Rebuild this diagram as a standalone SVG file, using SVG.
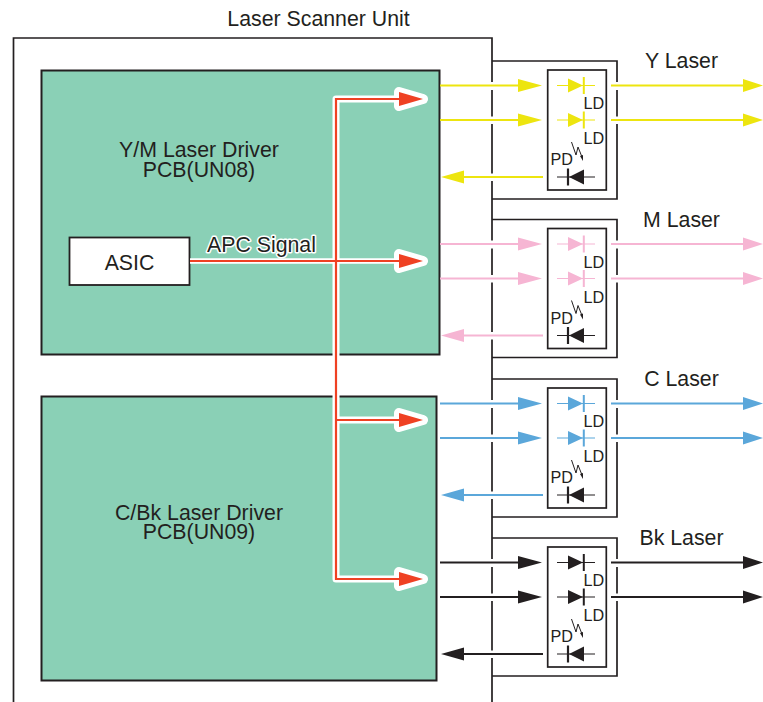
<svg xmlns="http://www.w3.org/2000/svg" width="763" height="702" viewBox="0 0 763 702">
<style>
text{font-family:"Liberation Sans",Arial,sans-serif;fill:#231f20}
.t{font-size:21.3px;text-anchor:middle}
.l{font-size:16.2px}
.box{fill:none;stroke:#231f20;stroke-width:1.7}
.pcb{fill:#8ad0b6;stroke:#231f20;stroke-width:2}
.gap{stroke:#fff;stroke-width:5;fill:none}
.halo{fill:none;stroke:#fff;stroke-width:7;stroke-linejoin:round}
.haloh{fill:#fff;stroke:#fff;stroke-width:10;stroke-linejoin:round}
.red{fill:none;stroke:#ef4123;stroke-width:2.2}
.redh{fill:#ef4123}
.d{stroke:#231f20;stroke-width:1.2;fill:none}
.y{--c:#ede50f}.m{--c:#f6b5d3}.c{--c:#5ba7da}.k{--c:#231f20}
.w{stroke:var(--c);stroke-width:1.8;fill:none}
.h{fill:var(--c)}
.dc{stroke:var(--c);stroke-width:1.2;fill:none}
.db{stroke:var(--c);stroke-width:2;fill:none}
</style>
<defs>
<g id="module-frame">
<path class="box" d="M492 61H617V199H492"/>
<rect class="box" x="547.7" y="70" width="58.6" height="120" style="fill:#fff"/>
<path class="gap" d="M492 82V90M492 116.500V124M492 173.500V181M617 82V90M617 116.500V124"/>
</g>
<g id="module-signals">
<path class="w" d="M440 85.500H520M440 120H520M543 177H462M611 85.500H745M611 120H745"/>
<path class="h" d="M518 79L542 85.500L518 92ZM518 113.500L542 120L518 126.500ZM441 177L464 170.500V183.500ZM743 79L763 85.500L743 92ZM743 113.500L763 120L743 126.500Z"/>
<path class="dc" d="M557 85.500H595M557 120H595"/>
<path class="h" d="M568 78.500L583 85.500L568 92.500ZM568 113L583 120L568 127Z"/>
<path class="db" d="M583.800 77V94M583.800 111.500V128.500"/>
</g>
<g id="module-pd">
<path class="d" d="M557 177H595"/>
<path style="fill:#231f20" d="M584 169.500L569 177L584 184.500Z"/>
<path style="stroke:#231f20;stroke-width:2.2;fill:none" d="M568 168.500V185.500"/>
<path style="stroke:#231f20;stroke-width:1;fill:none" d="M571.500 142L576 155L578 147L582 157"/>
<path style="fill:#231f20" d="M580 156L583 155L583 161Z"/>
<text class="l" x="583.500" y="109">LD</text>
<text class="l" x="583.500" y="144">LD</text>
<text class="l" x="550.500" y="165">PD</text>
</g>
</defs>
<g id="laser-scanner-unit">
<path class="box" d="M13.500 702V38H492V702"/>
<text class="t" x="318.500" y="26">Laser Scanner Unit</text>
</g>
<g id="pcb-un08">
<rect class="pcb" x="41.500" y="70.500" width="398" height="284"/>
<text class="t" x="199" y="157">Y/M Laser Driver</text>
<text class="t" x="199" y="176.500">PCB(UN08)</text>
</g>
<g id="pcb-un09">
<rect class="pcb" x="41.500" y="396.500" width="395" height="284"/>
<text class="t" x="199" y="519.500">C/Bk Laser Driver</text>
<text class="t" x="199" y="539">PCB(UN09)</text>
</g>
<g id="asic">
<rect x="69.500" y="237.500" width="120" height="47.500" fill="#fff" stroke="#231f20" stroke-width="1.8"/>
<text class="t" x="129.500" y="270">ASIC</text>
</g>
<g id="connectors">
<path class="halo" style="stroke-width:5.500" d="M190 261H405"/>
<path class="halo" d="M405 99H336V579H405M336 420H405"/>
<path class="haloh" d="M399 92L423 99L399 106ZM399 254L423 261L399 268ZM399 413L423 420L399 427ZM399 572L423 579L399 586Z"/>
<path class="red" d="M190 261H405M405 99H336V579H405M336 420H405"/>
<path class="redh" d="M399 92L423 99L399 106ZM399 254L423 261L399 268ZM399 413L423 420L399 427ZM399 572L423 579L399 586Z"/>
</g>
<text x="207" y="252" style="font-size:21.300px;stroke:#fff;stroke-width:3;paint-order:stroke;stroke-linejoin:round">APC Signal</text>
<g id="y-laser">
<use href="#module-frame"/><use href="#module-signals" class="y"/><use href="#module-pd"/>
<text class="t" x="681.500" y="68">Y Laser</text>
</g>
<g id="m-laser" transform="translate(0,158.500)">
<use href="#module-frame"/><use href="#module-signals" class="m"/><use href="#module-pd"/>
<text class="t" x="681.500" y="68">M Laser</text>
</g>
<g id="c-laser" transform="translate(0,318)">
<use href="#module-frame"/><use href="#module-signals" class="c"/><use href="#module-pd"/>
<text class="t" x="681.500" y="68">C Laser</text>
</g>
<g id="bk-laser" transform="translate(0,477)">
<use href="#module-frame"/><use href="#module-signals" class="k"/><use href="#module-pd"/>
<text class="t" x="681.500" y="68">Bk Laser</text>
</g>
</svg>
